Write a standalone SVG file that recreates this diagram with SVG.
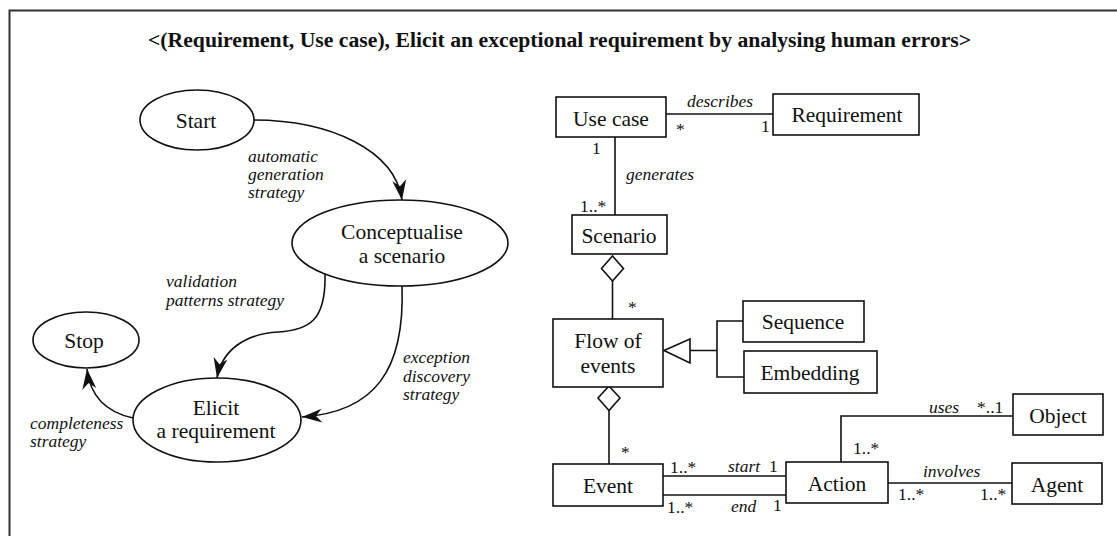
<svg xmlns="http://www.w3.org/2000/svg" width="1117" height="536" viewBox="0 0 1117 536">
<style>
.shape{fill:#fff;stroke:#111;stroke-width:1.6}
.ln{fill:none;stroke:#111;stroke-width:1.6}
.t{font-family:'Liberation Serif','DejaVu Serif',serif;font-size:21.5px;fill:#111;text-anchor:middle}
.it{font-family:'Liberation Serif','DejaVu Serif',serif;font-size:17.5px;font-style:italic;fill:#111}
.m{font-family:'Liberation Serif','DejaVu Serif',serif;font-size:17.5px;fill:#111}
.title{font-family:'Liberation Serif','DejaVu Serif',serif;font-size:21.7px;font-weight:bold;fill:#111}
</style>
<defs>
<marker id="arr" markerUnits="userSpaceOnUse" markerWidth="24" markerHeight="18" viewBox="0 -9 22 18" refX="20" refY="0" orient="auto">
<path d="M0,-7 L20,0 L0,7 L6,0 Z" fill="#111"/>
</marker>
</defs>
<rect x="9.5" y="10.5" width="1120" height="540" fill="#fff" stroke="#333" stroke-width="2"/>
<text class="title" x="148" y="47">&lt;(Requirement, Use case), Elicit an exceptional requirement by analysing human errors&gt;</text>

<g id="connectors">
<path class="ln" d="M253,120 C330,120 395,150 402,200" marker-end="url(#arr)"/>
<path class="ln" d="M325,274 C326,320 310,330 278,332 C245,334 222,350 217,378" marker-end="url(#arr)"/>
<path class="ln" d="M402,286 C405,370 375,412 302,417" marker-end="url(#arr)"/>
<path class="ln" d="M133,418 C105,412 90,395 87,369" marker-end="url(#arr)"/>
<line class="ln" x1="666" y1="114" x2="773" y2="114"/>
<line class="ln" x1="615" y1="137" x2="615" y2="215"/>
<line class="ln" x1="612.5" y1="281" x2="612.5" y2="319"/>
<path class="shape" d="M612.5,256 L623.5,268.5 L612.5,281 L601.5,268.5 Z"/>
<line class="ln" x1="609" y1="410.5" x2="609" y2="464"/>
<path class="shape" d="M609,386 L620,398 L609,410.5 L598,398 Z"/>
<path class="ln" d="M690,350.5 L717,350.5 M743,321 L717,321 L717,377 L744,377"/>
<path class="shape" d="M664,350.5 L690,339 L690,363 Z"/>
<line class="ln" x1="663" y1="476" x2="786" y2="476"/>
<line class="ln" x1="661" y1="495" x2="786" y2="495"/>
<path class="ln" d="M841,462 L841,416 L1013,416"/>
<line class="ln" x1="888" y1="483" x2="1012" y2="483"/>
</g>

<g id="labels">
<text class="it" x="248" y="162">automatic</text>
<text class="it" x="248" y="180">generation</text>
<text class="it" x="248" y="198">strategy</text>
<text class="it" x="166" y="287">validation</text>
<text class="it" x="166" y="306">patterns strategy</text>
<text class="it" x="403" y="363">exception</text>
<text class="it" x="403" y="382">discovery</text>
<text class="it" x="403" y="400">strategy</text>
<text class="it" x="30" y="429">completeness</text>
<text class="it" x="30" y="447">strategy</text>
<text class="it" x="687" y="107">describes</text>
<text class="m" x="676" y="135">*</text>
<text class="m" x="761" y="132">1</text>
<text class="m" x="592" y="154">1</text>
<text class="it" x="626" y="180">generates</text>
<text class="m" x="580" y="212">1..*</text>
<text class="m" x="628" y="313">*</text>
<text class="m" x="621" y="458">*</text>
<text class="m" x="670" y="473">1..*</text>
<text class="it" x="728" y="472">start</text>
<text class="m" x="769" y="472">1</text>
<text class="m" x="667" y="513">1..*</text>
<text class="it" x="731" y="512">end</text>
<text class="m" x="773" y="511">1</text>
<text class="it" x="929" y="413">uses</text>
<text class="m" x="977" y="413">*..1</text>
<text class="m" x="853" y="454">1..*</text>
<text class="it" x="923" y="477">involves</text>
<text class="m" x="898" y="500">1..*</text>
<text class="m" x="980" y="500">1..*</text>
</g>

<g id="start"><ellipse class="shape" cx="197" cy="120" rx="57" ry="30"/><text class="t" x="196" y="128">Start</text></g>
<g id="conceptualise"><ellipse class="shape" cx="400" cy="243" rx="108" ry="43"/><text class="t" x="402" y="239">Conceptualise</text><text class="t" x="402" y="263">a scenario</text></g>
<g id="stop"><ellipse class="shape" cx="86" cy="340" rx="53" ry="28"/><text class="t" x="84" y="348">Stop</text></g>
<g id="elicit"><ellipse class="shape" cx="217" cy="420" rx="84" ry="42"/><text class="t" x="216" y="415">Elicit</text><text class="t" x="216" y="438">a requirement</text></g>

<g id="usecase"><rect class="shape" x="556" y="97" width="110" height="40"/><text class="t" x="611" y="126">Use case</text></g>
<g id="requirement"><rect class="shape" x="773" y="94" width="146" height="41"/><text class="t" x="847" y="122">Requirement</text></g>
<g id="scenario"><rect class="shape" x="572" y="215" width="95" height="39"/><text class="t" x="619" y="243">Scenario</text></g>
<g id="flow"><rect class="shape" x="553" y="319" width="110" height="68"/><text class="t" x="608" y="348">Flow of</text><text class="t" x="608" y="373">events</text></g>
<g id="sequence"><rect class="shape" x="743" y="301" width="121" height="41"/><text class="t" x="803" y="329">Sequence</text></g>
<g id="embedding"><rect class="shape" x="744" y="351" width="133" height="42"/><text class="t" x="810" y="380">Embedding</text></g>
<g id="event"><rect class="shape" x="553" y="464" width="110" height="42"/><text class="t" x="608" y="493">Event</text></g>
<g id="action"><rect class="shape" x="786" y="462" width="102" height="41"/><text class="t" x="837" y="491">Action</text></g>
<g id="object"><rect class="shape" x="1013" y="394" width="90" height="41"/><text class="t" x="1058" y="423">Object</text></g>
<g id="agent"><rect class="shape" x="1012" y="463" width="90" height="41"/><text class="t" x="1057" y="492">Agent</text></g>
</svg>
